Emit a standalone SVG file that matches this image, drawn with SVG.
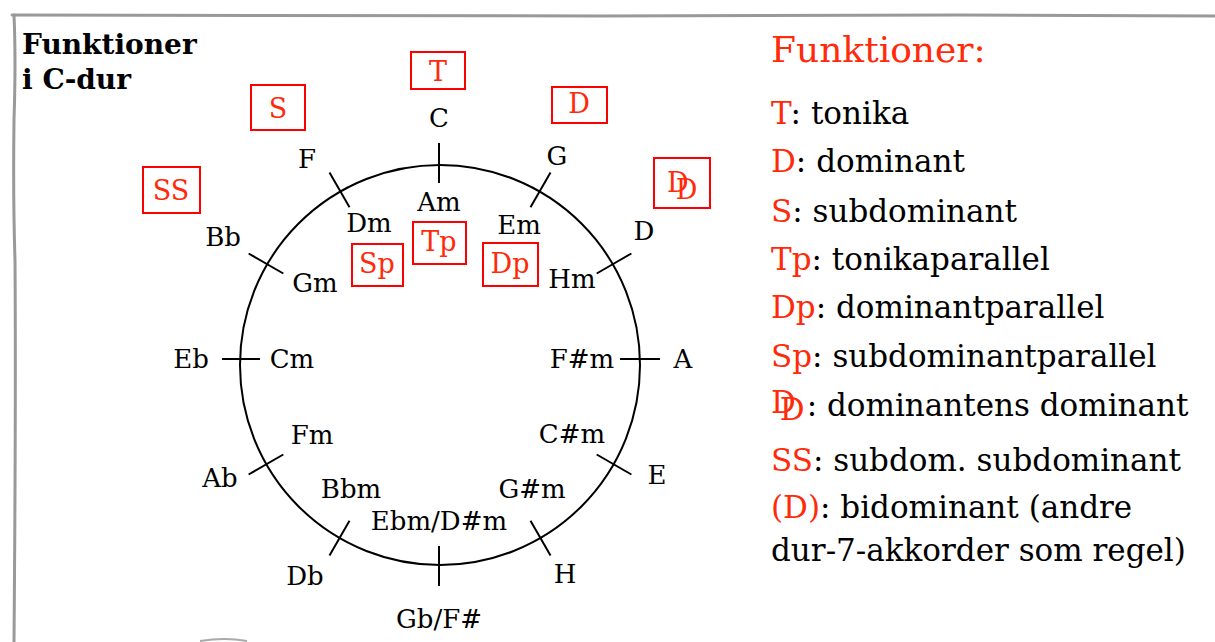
<svg xmlns="http://www.w3.org/2000/svg" width="1215" height="642" viewBox="0 0 1215 642">
<style>
.lbl{font-family:"DejaVu Serif","Liberation Serif",serif;font-size:26px;fill:#000;text-anchor:middle}
.fn{font-family:"DejaVu Serif","Liberation Serif",serif;font-size:27px;fill:#ff2a0a;text-anchor:middle}
.box{fill:none;stroke:#ff0000;stroke-width:2}
.tick{stroke:#000;stroke-width:2}
.leg{font-family:"DejaVu Serif","Liberation Serif",serif;font-size:31px;fill:#000}
.r{fill:#ff2a0a}
.title{font-family:"DejaVu Serif","Liberation Serif",serif;font-size:28px;font-weight:bold;fill:#000}
.frame{fill:none;stroke:#999;stroke-width:3;stroke-linecap:round}
</style>
<rect width="1215" height="642" fill="#fff"/>
<g id="frame">
<path class="frame" d="M12,15 L600,16 L960,15 L1215,16"/>
<path class="frame" d="M14,15 Q16,60 14,120 Q13,200 15,260 Q16,400 14,642"/>
<path d="M200,641 Q225,637 247,641" fill="none" stroke="#aaa" stroke-width="2"/>
</g>
<g id="title">
<text class="title" x="22" y="54">Funktioner</text>
<text class="title" x="22" y="89">i C-dur</text>
</g>
<g id="connectors">
<circle cx="440" cy="365" r="200" fill="none" stroke="#000" stroke-width="2"/>
<line class="tick" x1="439" y1="143" x2="439" y2="183"/>
<line class="tick" x1="530.5" y1="207.3" x2="550.5" y2="172.6"/>
<line class="tick" x1="596.7" y1="273.5" x2="631.4" y2="253.5"/>
<line class="tick" x1="620" y1="359" x2="660" y2="359"/>
<line class="tick" x1="596.7" y1="454.5" x2="631.4" y2="474.5"/>
<line class="tick" x1="530.5" y1="520.7" x2="550.5" y2="555.4"/>
<line class="tick" x1="439" y1="546" x2="439" y2="586"/>
<line class="tick" x1="349.5" y1="520.7" x2="329.5" y2="555.4"/>
<line class="tick" x1="283.3" y1="454.5" x2="248.6" y2="474.5"/>
<line class="tick" x1="222" y1="359" x2="260" y2="359"/>
<line class="tick" x1="283.3" y1="273.5" x2="248.6" y2="253.5"/>
<line class="tick" x1="349.5" y1="207.3" x2="329.5" y2="172.6"/>
</g>
<g id="keys">
<text class="lbl" x="439" y="127">C</text>
<text class="lbl" x="439" y="211">Am</text>
<text class="lbl" x="557" y="165">G</text>
<text class="lbl" x="519" y="234">Em</text>
<text class="lbl" x="644" y="240">D</text>
<text class="lbl" x="572" y="288">Hm</text>
<text class="lbl" x="683" y="368">A</text>
<text class="lbl" x="582" y="368">F#m</text>
<text class="lbl" x="657" y="484">E</text>
<text class="lbl" x="572" y="443">C#m</text>
<text class="lbl" x="565" y="583">H</text>
<text class="lbl" x="532" y="498">G#m</text>
<text class="lbl" x="439" y="628">Gb/F#</text>
<text class="lbl" x="439" y="530">Ebm/D#m</text>
<text class="lbl" x="305" y="585">Db</text>
<text class="lbl" x="351" y="498">Bbm</text>
<text class="lbl" x="220" y="487">Ab</text>
<text class="lbl" x="312" y="444">Fm</text>
<text class="lbl" x="191" y="368">Eb</text>
<text class="lbl" x="292" y="368">Cm</text>
<text class="lbl" x="223" y="246">Bb</text>
<text class="lbl" x="315" y="292">Gm</text>
<text class="lbl" x="307" y="168">F</text>
<text class="lbl" x="369" y="232">Dm</text>
</g>
<g id="fn-T"><rect class="box" x="411" y="52" width="54" height="37"/><text class="fn" x="438" y="81">T</text></g>
<g id="fn-D"><rect class="box" x="552" y="87" width="55" height="36"/><text class="fn" x="579" y="113">D</text></g>
<g id="fn-S"><rect class="box" x="251" y="85" width="54" height="45"/><text class="fn" x="278" y="118">S</text></g>
<g id="fn-DD"><rect class="box" x="654" y="158" width="56" height="50"/><text class="fn" x="677" y="192" style="text-anchor:start" dx="-10">D<tspan dx="-13" dy="7">D</tspan></text></g>
<g id="fn-SS"><rect class="box" x="143" y="167" width="57" height="46"/><text class="fn" x="171" y="200">SS</text></g>
<g id="fn-Sp"><rect class="box" x="352" y="244" width="51" height="42"/><text class="fn" x="377" y="273">Sp</text></g>
<g id="fn-Tp"><rect class="box" x="413" y="222" width="53" height="42"/><text class="fn" x="439" y="251">Tp</text></g>
<g id="fn-Dp"><rect class="box" x="483" y="243" width="55" height="43"/><text class="fn" x="510" y="273">Dp</text></g>
<g id="legend">
<text class="leg r" x="771" y="62" style="font-size:36px">Funktioner:</text>
<text class="leg" x="771" y="124"><tspan class="r">T</tspan>: tonika</text>
<text class="leg" x="771" y="172"><tspan class="r">D</tspan>: dominant</text>
<text class="leg" x="771" y="222"><tspan class="r">S</tspan>: subdominant</text>
<text class="leg" x="771" y="270"><tspan class="r">Tp</tspan>: tonikaparallel</text>
<text class="leg" x="771" y="318"><tspan class="r">Dp</tspan>: dominantparallel</text>
<text class="leg" x="771" y="367"><tspan class="r">Sp</tspan>: subdominantparallel</text>
<text class="leg" x="771" y="413"><tspan class="r">D</tspan><tspan class="r" dx="-16" dy="7">D</tspan><tspan dx="2" dy="-4">: dominantens dominant</tspan></text>
<text class="leg" x="771" y="471"><tspan class="r">SS</tspan>: subdom. subdominant</text>
<text class="leg" x="771" y="518"><tspan class="r">(D)</tspan>: bidominant (andre</text>
<text class="leg" x="771" y="561">dur-7-akkorder som regel)</text>
</g>
</svg>
